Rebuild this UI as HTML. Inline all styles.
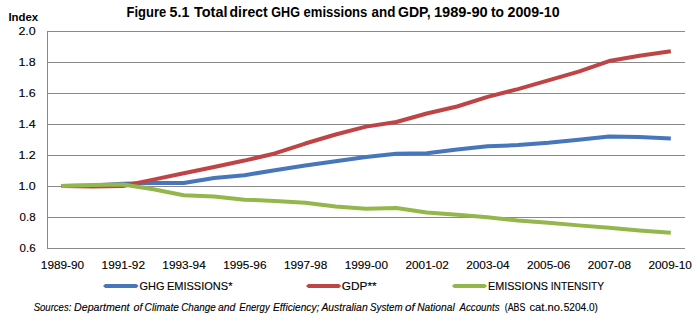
<!DOCTYPE html>
<html><head><meta charset="utf-8"><style>
html,body{margin:0;padding:0;background:#fff;width:699px;height:320px;overflow:hidden}
svg{display:block}
text{font-family:"Liberation Sans",sans-serif;fill:#000;stroke:#000;stroke-width:0.12px}
</style></head><body>
<svg width="699" height="320" viewBox="0 0 699 320">
<g stroke="#898989" stroke-width="1" fill="none"><line x1="47" y1="31.5" x2="685" y2="31.5"/><line x1="47" y1="62.5" x2="685" y2="62.5"/><line x1="47" y1="93.5" x2="685" y2="93.5"/><line x1="47" y1="124.5" x2="685" y2="124.5"/><line x1="47" y1="155.5" x2="685" y2="155.5"/><line x1="47" y1="186.5" x2="685" y2="186.5"/><line x1="47" y1="217.5" x2="685" y2="217.5"/><line x1="47" y1="248.5" x2="685" y2="248.5"/><line x1="47.5" y1="31" x2="47.5" y2="249"/></g>
<g fill="none" stroke-width="4" stroke-linejoin="round" stroke-linecap="butt">
<polyline stroke="#4776BA" points="61.19,186.02 92.57,185.54 122.95,183.68 153.33,183.06 183.71,183.06 214.10,177.94 244.48,175.15 274.86,170.34 305.24,165.54 335.62,161.35 366.00,157.01 396.38,153.76 426.76,153.14 457.14,149.57 487.52,146.32 517.90,145.08 548.29,142.75 578.67,139.66 609.05,136.56 639.43,137.02 670.81,138.62"/>
<polyline stroke="#BE4446" points="61.19,185.98 92.57,186.47 122.95,186.00 153.33,179.65 183.71,173.29 214.10,166.94 244.48,160.58 274.86,153.45 305.24,143.53 335.62,134.54 366.00,126.63 396.38,121.98 426.76,113.46 457.14,106.49 487.52,96.88 517.90,89.12 548.29,80.44 578.67,71.61 609.05,61.07 639.43,55.80 670.80,51.16"/>
<polyline stroke="#94B74C" points="61.19,186.04 92.57,184.92 122.95,184.45 153.33,189.25 183.71,195.30 214.10,196.54 244.48,199.64 274.86,200.88 305.24,202.74 335.62,206.46 366.00,208.78 396.38,208.01 426.76,212.50 457.14,214.68 487.52,217.31 517.90,220.56 548.29,222.73 578.67,225.37 609.05,227.85 639.43,230.49 670.81,232.73"/>
</g>
<polygon fill="#4776BA" points="103,286 105.2,284 136.4,284 138.6,286 136.4,288 105.2,288"/>
<polygon fill="#BE4446" points="306,286 308.2,284 339.0,284 341.2,286 339.0,288 308.2,288"/>
<polygon fill="#94B74C" points="451.9,286 454.09999999999997,284 484.90000000000003,284 487.1,286 484.90000000000003,288 454.09999999999997,288"/>
<text x="126.56" y="16.9" font-size="13.8" textLength="39.60" lengthAdjust="spacingAndGlyphs" font-weight="bold" style="stroke-width:0">Figure</text>
<text x="169.57" y="16.9" font-size="13.8" textLength="19.72" lengthAdjust="spacingAndGlyphs" font-weight="bold" style="stroke-width:0">5.1</text>
<text x="194.00" y="16.9" font-size="13.8" textLength="33.48" lengthAdjust="spacingAndGlyphs" font-weight="bold" style="stroke-width:0">Total</text>
<text x="229.59" y="16.9" font-size="13.8" textLength="38.00" lengthAdjust="spacingAndGlyphs" font-weight="bold" style="stroke-width:0">direct</text>
<text x="271.29" y="16.9" font-size="13.8" textLength="28.71" lengthAdjust="spacingAndGlyphs" font-weight="bold" style="stroke-width:0">GHG</text>
<text x="303.55" y="16.9" font-size="13.8" textLength="63.80" lengthAdjust="spacingAndGlyphs" font-weight="bold" style="stroke-width:0">emissions</text>
<text x="371.50" y="16.9" font-size="13.8" textLength="23.82" lengthAdjust="spacingAndGlyphs" font-weight="bold" style="stroke-width:0">and</text>
<text x="397.98" y="16.9" font-size="13.8" textLength="32.59" lengthAdjust="spacingAndGlyphs" font-weight="bold" style="stroke-width:0">GDP,</text>
<text x="433.94" y="16.9" font-size="13.8" textLength="53.74" lengthAdjust="spacingAndGlyphs" font-weight="bold" style="stroke-width:0">1989-90</text>
<text x="491.00" y="16.9" font-size="13.8" textLength="13.03" lengthAdjust="spacingAndGlyphs" font-weight="bold" style="stroke-width:0">to</text>
<text x="507.50" y="16.9" font-size="13.8" textLength="52.16" lengthAdjust="spacingAndGlyphs" font-weight="bold" style="stroke-width:0">2009-10</text>
<text x="8.41" y="21" font-size="11.5" textLength="29.74" lengthAdjust="spacingAndGlyphs" font-weight="bold" style="stroke-width:0">Index</text>
<text x="18.42" y="34.7" font-size="10.5" textLength="17.31" lengthAdjust="spacingAndGlyphs">2.0</text>
<text x="18.42" y="65.7" font-size="10.5" textLength="17.31" lengthAdjust="spacingAndGlyphs">1.8</text>
<text x="18.42" y="96.7" font-size="10.5" textLength="17.31" lengthAdjust="spacingAndGlyphs">1.6</text>
<text x="18.42" y="127.7" font-size="10.5" textLength="17.31" lengthAdjust="spacingAndGlyphs">1.4</text>
<text x="18.42" y="158.7" font-size="10.5" textLength="17.31" lengthAdjust="spacingAndGlyphs">1.2</text>
<text x="18.42" y="189.7" font-size="10.5" textLength="17.31" lengthAdjust="spacingAndGlyphs">1.0</text>
<text x="19.60" y="220.7" font-size="10.5" textLength="16.07" lengthAdjust="spacingAndGlyphs">0.8</text>
<text x="19.60" y="251.7" font-size="10.5" textLength="16.07" lengthAdjust="spacingAndGlyphs">0.6</text>
<text x="40.87" y="269" font-size="10.5" textLength="43.34" lengthAdjust="spacingAndGlyphs">1989-90</text>
<text x="101.63" y="269" font-size="10.5" textLength="43.34" lengthAdjust="spacingAndGlyphs">1991-92</text>
<text x="162.39" y="269" font-size="10.5" textLength="43.34" lengthAdjust="spacingAndGlyphs">1993-94</text>
<text x="223.15" y="269" font-size="10.5" textLength="43.34" lengthAdjust="spacingAndGlyphs">1995-96</text>
<text x="283.91" y="269" font-size="10.5" textLength="43.34" lengthAdjust="spacingAndGlyphs">1997-98</text>
<text x="344.68" y="269" font-size="10.5" textLength="43.34" lengthAdjust="spacingAndGlyphs">1999-00</text>
<text x="405.44" y="269" font-size="10.5" textLength="43.34" lengthAdjust="spacingAndGlyphs">2001-02</text>
<text x="466.20" y="269" font-size="10.5" textLength="43.34" lengthAdjust="spacingAndGlyphs">2003-04</text>
<text x="526.96" y="269" font-size="10.5" textLength="43.34" lengthAdjust="spacingAndGlyphs">2005-06</text>
<text x="587.72" y="269" font-size="10.5" textLength="43.34" lengthAdjust="spacingAndGlyphs">2007-08</text>
<text x="648.49" y="269" font-size="10.5" textLength="43.34" lengthAdjust="spacingAndGlyphs">2009-10</text>
<text x="139.55" y="289.7" font-size="10.5" textLength="25.01" lengthAdjust="spacingAndGlyphs">GHG</text>
<text x="166.95" y="289.7" font-size="10.5" textLength="65.51" lengthAdjust="spacingAndGlyphs">EMISSIONS*</text>
<text x="341.77" y="289.7" font-size="10.5" textLength="34.86" lengthAdjust="spacingAndGlyphs">GDP**</text>
<text x="487.97" y="289.7" font-size="10.5" textLength="59.90" lengthAdjust="spacingAndGlyphs">EMISSIONS</text>
<text x="550.73" y="289.7" font-size="10.5" textLength="53.29" lengthAdjust="spacingAndGlyphs">INTENSITY</text>
<text x="33.70" y="311" font-size="10" textLength="37.65" lengthAdjust="spacingAndGlyphs" font-style="italic">Sources:</text>
<text x="74.10" y="311" font-size="10" textLength="55.47" lengthAdjust="spacingAndGlyphs" font-style="italic">Department</text>
<text x="133.60" y="311" font-size="10" textLength="8.90" lengthAdjust="spacingAndGlyphs" font-style="italic">of</text>
<text x="144.59" y="311" font-size="10" textLength="34.32" lengthAdjust="spacingAndGlyphs" font-style="italic">Climate</text>
<text x="181.21" y="311" font-size="10" textLength="34.62" lengthAdjust="spacingAndGlyphs" font-style="italic">Change</text>
<text x="218.00" y="311" font-size="10" textLength="17.37" lengthAdjust="spacingAndGlyphs" font-style="italic">and</text>
<text x="239.30" y="311" font-size="10" textLength="30.40" lengthAdjust="spacingAndGlyphs" font-style="italic">Energy</text>
<text x="273.00" y="311" font-size="10" textLength="46.29" lengthAdjust="spacingAndGlyphs" font-style="italic">Efficiency;</text>
<text x="321.40" y="311" font-size="10" textLength="46.29" lengthAdjust="spacingAndGlyphs" font-style="italic">Australian</text>
<text x="370.00" y="311" font-size="10" textLength="32.54" lengthAdjust="spacingAndGlyphs" font-style="italic">System</text>
<text x="405.00" y="311" font-size="10" textLength="9.73" lengthAdjust="spacingAndGlyphs" font-style="italic">of</text>
<text x="417.20" y="311" font-size="10" textLength="37.50" lengthAdjust="spacingAndGlyphs" font-style="italic">National</text>
<text x="459.40" y="311" font-size="10" textLength="40.14" lengthAdjust="spacingAndGlyphs" font-style="italic">Accounts</text>
<text x="504.82" y="311" font-size="10" textLength="20.48" lengthAdjust="spacingAndGlyphs">(ABS</text>
<text x="529.50" y="311" font-size="10" textLength="33.66" lengthAdjust="spacingAndGlyphs">cat.no.</text>
<text x="563.69" y="311" font-size="10" textLength="34.24" lengthAdjust="spacingAndGlyphs">5204.0)</text>

</svg>
</body></html>
